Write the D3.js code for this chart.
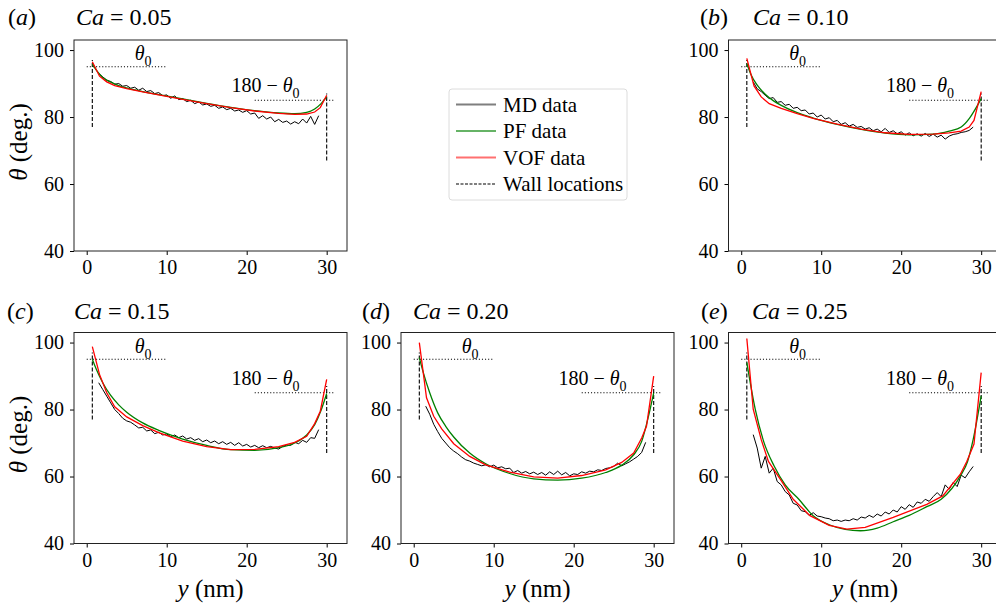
<!DOCTYPE html>
<html>
<head>
<meta charset="utf-8">
<script src="https://cdn.jsdelivr.net/npm/d3@7"></script>
<style>
body { margin: 0; background: #fff; }
text { font-family: "Liberation Serif", "Times New Roman", serif; fill: #000; }
</style>
</head>
<body>
<svg id="fig" width="996" height="606"></svg>
<script>
/*globals d3 */

var panelTags = ["a", "b", "c", "d", "e"];
var caValues = ["0.05", "0.10", "0.15", "0.20", "0.25"];
var xTicks = [0, 10, 20, 30];
var yTicks = [40, 60, 80, 100];
var legendLabels = ["MD data", "PF data", "VOF data", "Wall locations"];

// wall positions [y, theta from, theta to] and reference angle guides [from, to, theta]
var wallLeft = [0.7, 77, 97];
var wallRight = [30, 67, 87];
var theta0Guide = [0, 10, 95];
var suppGuide = [21, 31, 85];

// MD sampling positions (nm)
var mdX = [1.5, 2, 2.5, 3, 3.5, 4, 4.5, 5, 5.5, 6, 6.5, 7, 7.5, 8, 8.5, 9, 9.5, 10,
    10.5, 11, 11.5, 12, 12.5, 13, 13.5, 14, 14.5, 15, 15.5, 16, 16.5, 17, 17.5, 18,
    18.5, 19, 19.5, 20, 20.5, 21, 21.5, 22, 22.5, 23, 23.5, 24, 24.5, 25, 25.5, 26,
    26.5, 27, 27.5, 28, 28.5, 29];

var mdA = [93.0, 92.0, 91.0, 90.6, 89.8, 90.0, 89.2, 89.4, 88.6, 88.9, 88.0, 88.6, 87.6, 87.9,
    87.0, 87.3, 86.4, 86.6, 85.6, 86.3, 85.2, 85.5, 84.6, 85.0, 84.0, 84.5, 83.6, 83.9, 83.2,
    83.5, 82.6, 83.0, 82.2, 82.6, 81.8, 82.1, 81.4, 81.9, 80.9, 81.2, 79.6, 80.4, 79.4, 80.0,
    78.6, 79.3, 78.4, 78.8, 77.9, 78.6, 78.0, 79.4, 78.2, 80.2, 77.8, 80.4];
var mdB = [90.5, 88.4, 87.6, 86.5, 85.5, 85.8, 84.4, 84.6, 83.5, 83.8, 82.6, 82.9, 81.9, 82.1,
    80.9, 81.2, 80.0, 80.6, 79.4, 79.8, 78.6, 79.0, 77.8, 78.3, 77.3, 77.8, 76.9, 77.2, 76.4,
    76.8, 75.9, 76.4, 75.6, 76.6, 75.4, 75.9, 75.0, 75.6, 74.6, 75.3, 74.4, 75.0, 74.3, 75.1,
    74.2, 74.9, 74.0, 74.6, 73.4, 74.3, 74.8, 75.0, 75.4, 75.6, 76.0, 77.0];
var mdC = [88.0, 86.0, 84.0, 82.0, 80.0, 78.8, 77.4, 76.6, 76.2, 75.4, 74.5, 74.7, 73.6, 73.9,
    72.8, 73.2, 72.4, 72.7, 71.9, 72.4, 71.6, 72.1, 71.2, 71.6, 70.8, 71.3, 70.4, 70.9, 70.1,
    70.6, 69.8, 70.4, 69.6, 70.2, 69.3, 70.1, 69.1, 69.6, 68.8, 69.3, 68.6, 69.2, 68.6, 69.0,
    68.5, 68.2, 69.0, 69.4, 69.3, 70.2, 69.8, 70.8, 70.2, 71.6, 71.4, 74.0];
var mdD = [81.0, 78.6, 75.6, 73.4, 71.4, 70.0, 68.6, 67.6, 66.8, 65.8, 65.0, 64.6, 64.0, 63.6,
    63.2, 63.5, 62.9, 63.4, 62.6, 62.9, 62.3, 62.5, 61.2, 61.8, 61.0, 61.5, 60.8, 61.3, 60.6,
    61.2, 60.4, 61.4, 60.6, 61.6, 60.5, 61.2, 60.2, 60.8, 60.6, 61.4, 61.0, 61.6, 61.4, 62.0,
    61.8, 62.4, 62.6, 63.0, 64.0, 63.2, 63.8, 64.4, 65.2, 66.0, 67.2, 70.2];
var mdE = [72.5, 68.5, 62.5, 66.0, 61.0, 62.5, 58.5, 57.5, 55.5, 54.5, 52.0, 51.5, 49.8, 49.5,
    48.4, 49.2, 48.2, 48.0, 47.6, 47.4, 46.8, 47.0, 46.6, 47.0, 46.8, 47.4, 47.0, 47.9, 47.6,
    48.4, 47.8, 48.8, 48.2, 49.4, 48.8, 50.0, 49.4, 51.0, 50.2, 51.6, 50.8, 52.4, 52.0, 53.2,
    52.6, 54.0, 55.2, 54.0, 57.5, 56.2, 58.2, 57.0, 60.4, 59.6, 61.4, 63.0];

// PF (phase field) curves, [y, theta]
var pfA = [[0.7, 95.8], [1.2, 94.0], [2, 91.8], [3, 90.4], [4, 89.4], [5, 88.7], [7, 87.6],
    [9, 86.7], [12, 85.4], [15, 84.1], [18, 82.9], [21, 81.9], [24, 81.2], [26, 81.0],
    [27.5, 81.4], [28.5, 82.4], [29.3, 84.0], [30, 86.0]];
var pfB = [[0.7, 96.0], [1.2, 92.8], [2, 89.5], [3, 86.8], [4, 84.9], [5, 83.5], [7, 81.3],
    [9, 79.7], [12, 77.8], [15, 76.3], [18, 75.2], [21, 74.7], [24, 74.9], [26, 75.8],
    [27.5, 77.0], [28.5, 79.5], [29.3, 82.5], [30, 85.5]];
var pfC = [[0.7, 95.0], [1.2, 92.0], [2, 88.0], [3, 84.2], [4, 81.4], [5, 79.2], [7, 76.0],
    [9, 73.8], [12, 71.2], [15, 69.3], [18, 68.0], [21, 67.8], [24, 68.6], [26, 70.0],
    [27.5, 72.4], [28.5, 75.5], [29.3, 79.8], [30, 84.8]];
var pfD = [[0.7, 95.5], [1.2, 91.0], [2, 85.0], [3, 79.0], [4, 75.0], [5, 71.8], [7, 67.0],
    [9, 63.8], [12, 60.9], [15, 59.3], [18, 58.9], [21, 59.5], [24, 61.2], [26, 63.4],
    [27.5, 66.5], [28.5, 70.5], [29.3, 77.5], [30, 85.0]];
var pfE = [[0.7, 94.0], [1.75, 80.1], [2.8, 70.5], [4.1, 63.2], [5.5, 57.5], [7.2, 53.2],
    [9, 48.3], [11, 45.6], [13, 44.2], [14.9, 43.8], [17, 44.6], [19, 46.5], [21, 48.4],
    [23.2, 51.0], [25, 53.2], [27.4, 60.2], [28.3, 64.5], [29, 71.1], [30, 84.1]];

// VOF curves, [y, theta]
var vofA = [[0.7, 96.5], [1.6, 92.2], [2.5, 90.5], [3.5, 89.4], [5, 88.5], [7, 87.5], [9, 86.6],
    [12, 85.3], [15, 84.0], [18, 82.8], [21, 81.8], [24, 81.1], [26, 80.8], [27.5, 80.9],
    [28.5, 81.5], [29.2, 82.8], [30, 86.5]];
var vofB = [[0.7, 97.5], [1.6, 89.3], [2.5, 86.0], [3.5, 84.0], [5, 82.6], [7, 81.0], [9, 79.6],
    [12, 77.9], [15, 76.4], [18, 75.3], [21, 74.8], [24, 74.9], [26, 75.3], [27.5, 75.8],
    [28.5, 77.0], [29.1, 79.0], [30, 87.6]];
var vofC = [[0.7, 98.8], [1.6, 90.5], [2.5, 85.0], [3.5, 80.8], [5, 77.8], [7, 75.2], [9, 73.1],
    [12, 70.6], [15, 68.9], [18, 68.0], [21, 68.1], [24, 68.9], [26, 70.2], [27.5, 72.0],
    [28.5, 75.8], [29.2, 79.5], [30, 89.0]];
var vofD = [[0.7, 100.0], [1.6, 83.5], [2.5, 78.0], [3.5, 74.2], [5, 69.8], [7, 66.0], [9, 63.5],
    [12, 61.3], [15, 59.9], [18, 59.5], [21, 60.3], [24, 62.0], [26, 64.2], [27.5, 67.0],
    [28.5, 71.5], [29.1, 75.0], [30, 90.0]];
var vofE = [[0.7, 101.2], [1.5, 80.1], [2.5, 71.0], [3.4, 64.5], [5, 58.8], [6.5, 53.2],
    [8.6, 48.3], [11, 45.4], [13.2, 44.3], [15.5, 44.8], [19, 47.8], [23.2, 51.7], [25.2, 54.2],
    [27.4, 60.7], [28.2, 64.5], [29.1, 69.7], [30, 91.0]];

var mdSeries = [mdA, mdB, mdC, mdD, mdE];
var pfSeries = [pfA, pfB, pfC, pfD, pfE];
var vofSeries = [vofA, vofB, vofC, vofD, vofE];

// where each panel sits on the page
var layout = [
    {left: 74, top: 40, tagX: 8, caX: 76, titleY: 25, ylab: true, xlab: false},
    {left: 728.5, top: 40, tagX: 700, caX: 753, titleY: 25, ylab: false, xlab: false},
    {left: 74, top: 332.5, tagX: 7, caX: 74, titleY: 319, ylab: true, xlab: true},
    {left: 401, top: 332.5, tagX: 362, caX: 413, titleY: 319, ylab: false, xlab: true},
    {left: 728.5, top: 332.5, tagX: 701, caX: 752, titleY: 319, ylab: false, xlab: true}
];
var panelW = 273, panelH = 211;

var svg = d3.select("#fig");

function drawPanel(i) {
    var L = layout[i],
        g,
        x,
        y,
        line,
        md;

    x = d3.scaleLinear().domain([-1.59, 32.54]).range([L.left, L.left + panelW]);
    y = d3.scaleLinear().domain([40, 103]).range([L.top + panelH, L.top]);

    g = svg.append("g").attr("class", "panel-" + panelTags[i]);

    line = d3.line()
        .x(function (d) { return x(d[0]); })
        .y(function (d) { return y(d[1]); });

    // guide lines
    g.append("line")
        .attr("x1", x(theta0Guide[0])).attr("x2", x(theta0Guide[1]))
        .attr("y1", y(theta0Guide[2])).attr("y2", y(theta0Guide[2]))
        .style("stroke", "#000").style("stroke-width", 1.1).style("stroke-dasharray", "1.1,2");
    g.append("line")
        .attr("x1", x(suppGuide[0])).attr("x2", x(suppGuide[1]))
        .attr("y1", y(suppGuide[2])).attr("y2", y(suppGuide[2]))
        .style("stroke", "#000").style("stroke-width", 1.1).style("stroke-dasharray", "1.1,2");

    [wallLeft, wallRight].forEach(function (w) {
        g.append("line")
            .attr("x1", x(w[0])).attr("x2", x(w[0]))
            .attr("y1", y(w[1])).attr("y2", y(w[2]))
            .style("stroke", "#000").style("stroke-width", 1.1).style("stroke-dasharray", "4,2");
    });

    md = mdX.map(function (v, k) { return [v, mdSeries[i][k]]; });

    g.append("path").datum(md).attr("d", line)
        .style("fill", "none").style("stroke", "#000").style("stroke-width", 1);
    g.append("path").datum(pfSeries[i]).attr("d", line.curve(d3.curveMonotoneX))
        .style("fill", "none").style("stroke", "#008000").style("stroke-width", 1.3);
    g.append("path").datum(vofSeries[i]).attr("d", line.curve(d3.curveLinear))
        .style("fill", "none").style("stroke", "#ff0000").style("stroke-width", 1.3);

    // axes
    g.append("g")
        .attr("transform", "translate(0," + (L.top + panelH) + ")")
        .call(d3.axisBottom(x).tickValues(xTicks).tickSize(4).tickPadding(5).tickSizeOuter(0))
        .call(function (a) {
            a.select(".domain").remove();
            a.selectAll("text").style("font-size", "20px").style("font-family", "Liberation Serif");
        });
    g.append("g")
        .attr("transform", "translate(" + L.left + ",0)")
        .call(d3.axisLeft(y).tickValues(yTicks).tickSize(4).tickPadding(6).tickSizeOuter(0))
        .call(function (a) {
            a.select(".domain").remove();
            a.selectAll("text").style("font-size", "20px").style("font-family", "Liberation Serif");
        });

    g.append("rect")
        .attr("x", L.left).attr("y", L.top)
        .attr("width", panelW).attr("height", panelH)
        .style("fill", "none").style("stroke", "#222").style("stroke-width", 1);

    // annotations
    var t0 = g.append("text")
        .attr("x", x(6.0)).attr("y", y(97.0))
        .style("font-size", "20px");
    t0.append("tspan").style("font-style", "italic").text("θ");
    t0.append("tspan").attr("dy", 6).style("font-size", "14px").text("0");

    var t1 = g.append("text")
        .attr("x", x(18.1)).attr("y", y(87.4))
        .style("font-size", "20px");
    t1.append("tspan").text("180 − ");
    t1.append("tspan").style("font-style", "italic").text("θ");
    t1.append("tspan").attr("dy", 6).style("font-size", "14px").text("0");

    // panel title
    var tag = svg.append("text")
        .attr("x", L.tagX).attr("y", L.titleY)
        .style("font-size", "24px");
    tag.append("tspan").text("(");
    tag.append("tspan").style("font-style", "italic").text(panelTags[i]);
    tag.append("tspan").text(")");

    var ca = svg.append("text")
        .attr("x", L.caX).attr("y", L.titleY)
        .style("font-size", "24px");
    ca.append("tspan").style("font-style", "italic").text("Ca");
    ca.append("tspan").text(" = " + caValues[i]);

    if (L.ylab) {
        var yl = svg.append("text")
            .attr("transform", "translate(27," + (L.top + 102) + ") rotate(-90)")
            .attr("text-anchor", "middle")
            .style("font-size", "25px");
        yl.append("tspan").style("font-style", "italic").text("θ");
        yl.append("tspan").text(" (deg.)");
    }
    if (L.xlab) {
        var xl = svg.append("text")
            .attr("x", L.left + panelW / 2).attr("y", 597)
            .attr("text-anchor", "middle")
            .style("font-size", "25px");
        xl.append("tspan").style("font-style", "italic").text("y");
        xl.append("tspan").text(" (nm)");
    }
}

function drawLegend() {
    var lg = svg.append("g").attr("class", "legend"),
        colors = ["#7f7f7f", "#66b366", "#ff7070", "#7f7f7f"],
        dashes = [null, null, null, "3,1.5"];

    lg.append("rect")
        .attr("x", 449).attr("y", 89).attr("width", 178).attr("height", 111)
        .attr("rx", 3)
        .style("fill", "#fff").style("stroke", "#dcdcdc").style("stroke-width", 1);

    legendLabels.forEach(function (label, k) {
        var cy = 104.5 + k * 26.5;
        lg.append("line")
            .attr("x1", 456).attr("x2", 496).attr("y1", cy).attr("y2", cy)
            .style("stroke", colors[k]).style("stroke-width", 2)
            .style("stroke-dasharray", dashes[k]);
        lg.append("text")
            .attr("x", 503).attr("y", cy + 7)
            .style("font-size", "21px")
            .text(label);
    });
}

panelTags.forEach(function (t, i) {
    drawPanel(i);
});
drawLegend();
</script>
</body>
</html>
